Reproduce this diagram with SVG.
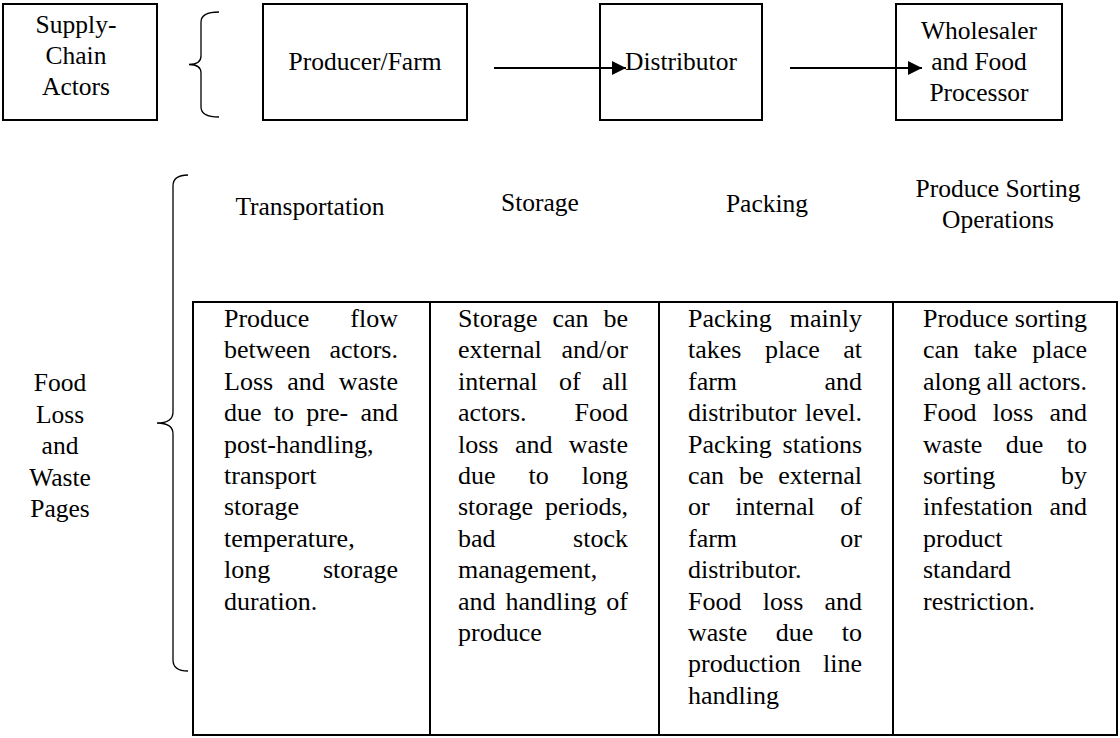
<svg xmlns="http://www.w3.org/2000/svg" width="1120" height="738" viewBox="0 0 1120 738" font-family="'Liberation Serif', 'Times New Roman', Times, serif">
<style>
text{font-family:"Liberation Serif","Times New Roman",Times,serif;fill:#000}
.h{font-size:25.5px;text-anchor:middle}
.t{font-size:26px}
.e{text-anchor:end}
.box{fill:#fff;stroke:#000;stroke-width:2}
.brace{fill:none;stroke:#000;stroke-width:1.3}
.conn{stroke:#000;stroke-width:2;fill:none}
</style>
<defs>
<marker id="arrow" markerUnits="userSpaceOnUse" markerWidth="14" markerHeight="14" refX="14" refY="7" orient="auto">
<path d="M0,0 L14,7 L0,14 z" fill="#000"/>
</marker>
</defs>
<rect width="1120" height="738" fill="#fff"/>

<g id="supply-chain-actors">
<rect class="box" x="3" y="4" width="154" height="116"/>
<text class="h" x="76" y="33">Supply-</text>
<text class="h" x="76" y="64">Chain</text>
<text class="h" x="76" y="95">Actors</text>
</g>

<g id="brace-actors">
<path class="brace" d="M219,12 Q201,12 201,22 L201,56 Q201,64.5 189,64.5 Q201,64.5 201,73 L201,107 Q201,117 219,117"/>
</g>

<g id="producer-farm">
<rect class="box" x="263" y="4" width="204" height="116"/>
<text class="h" x="365" y="70">Producer/Farm</text>
</g>

<g id="distributor">
<rect class="box" x="600" y="4" width="162" height="116"/>
<text class="h" x="681" y="70">Distributor</text>
</g>

<g id="wholesaler">
<rect class="box" x="896" y="4" width="166" height="116"/>
<text class="h" x="979" y="39">Wholesaler</text>
<text class="h" x="979" y="70">and Food</text>
<text class="h" x="979" y="101">Processor</text>
</g>

<g id="connectors">
<line class="conn" x1="494" y1="68" x2="626" y2="68" marker-end="url(#arrow)"/>
<line class="conn" x1="790" y1="68" x2="922" y2="68" marker-end="url(#arrow)"/>
</g>

<g id="headers">
<text class="h" x="310" y="215">Transportation</text>
<text class="h" x="540" y="211">Storage</text>
<text class="h" x="767" y="212">Packing</text>
<text class="h" x="998" y="197">Produce Sorting</text>
<text class="h" x="998" y="228">Operations</text>
</g>

<g id="food-loss-label">
<text class="h" x="60" y="391">Food</text>
<text class="h" x="60" y="422.5">Loss</text>
<text class="h" x="60" y="454">and</text>
<text class="h" x="60" y="485.5">Waste</text>
<text class="h" x="60" y="517">Pages</text>
</g>

<g id="brace-pages">
<path class="brace" d="M188,175 Q173,175 173,186 L173,412 Q173,423 157,423 Q173,423 173,434 L173,660 Q173,671 188,671"/>
</g>

<g id="table-frame">
<rect class="box" x="193" y="302" width="924" height="433" fill="none"/>
<line class="conn" x1="430" y1="302" x2="430" y2="735"/>
<line class="conn" x1="659" y1="302" x2="659" y2="735"/>
<line class="conn" x1="893" y1="302" x2="893" y2="735"/>
</g>

<g id="cell-transportation" class="t">
<text x="224" y="327">Produce</text><text class="e" x="398" y="327">flow</text>
<text x="224" y="358.4">between</text><text class="e" x="398" y="358.4">actors.</text>
<text x="224" y="389.8">Loss</text><text x="287.2" y="389.8">and</text><text class="e" x="398" y="389.8">waste</text>
<text x="224" y="421.2">due</text><text x="273.8" y="421.2">to</text><text x="306.3" y="421.2">pre-</text><text class="e" x="398" y="421.2">and</text>
<text x="224" y="452.6">post-handling,</text>
<text x="224" y="484">transport</text>
<text x="224" y="515.4">storage</text>
<text x="224" y="546.8">temperature,</text>
<text x="224" y="578.2">long</text><text class="e" x="398" y="578.2">storage</text>
<text x="224" y="609.6">duration.</text>
</g>

<g id="cell-storage" class="t">
<text x="458" y="327">Storage</text><text x="552.4" y="327">can</text><text class="e" x="628" y="327">be</text>
<text x="458" y="358.4">external</text><text class="e" x="628" y="358.4">and/or</text>
<text x="458" y="389.8">internal</text><text x="558.9" y="389.8">of</text><text class="e" x="628" y="389.8">all</text>
<text x="458" y="421.2">actors.</text><text class="e" x="628" y="421.2">Food</text>
<text x="458" y="452.6">loss</text><text x="514.9" y="452.6">and</text><text class="e" x="628" y="452.6">waste</text>
<text x="458" y="484">due</text><text x="528.5" y="484">to</text><text class="e" x="628" y="484">long</text>
<text x="458" y="515.4">storage</text><text class="e" x="628" y="515.4">periods,</text>
<text x="458" y="546.8">bad</text><text class="e" x="628" y="546.8">stock</text>
<text x="458" y="578.2">management,</text>
<text x="458" y="609.6">and</text><text x="505.4" y="609.6">handling</text><text class="e" x="628" y="609.6">of</text>
<text x="458" y="641">produce</text>
</g>

<g id="cell-packing" class="t">
<text x="688" y="327">Packing</text><text class="e" x="862" y="327">mainly</text>
<text x="688" y="358.4">takes</text><text x="764.9" y="358.4">place</text><text class="e" x="862" y="358.4">at</text>
<text x="688" y="389.8">farm</text><text class="e" x="862" y="389.8">and</text>
<text x="688" y="421.2">distributor</text><text class="e" x="862" y="421.2">level.</text>
<text x="688" y="452.6">Packing</text><text class="e" x="862" y="452.6">stations</text>
<text x="688" y="484">can</text><text x="739" y="484">be</text><text class="e" x="862" y="484">external</text>
<text x="688" y="515.4">or</text><text x="735.3" y="515.4">internal</text><text class="e" x="862" y="515.4">of</text>
<text x="688" y="546.8">farm</text><text class="e" x="862" y="546.8">or</text>
<text x="688" y="578.2">distributor.</text>
<text x="688" y="609.6">Food</text><text x="762.8" y="609.6">loss</text><text class="e" x="862" y="609.6">and</text>
<text x="688" y="641">waste</text><text x="775.8" y="641">due</text><text class="e" x="862" y="641">to</text>
<text x="688" y="672.4">production</text><text class="e" x="862" y="672.4">line</text>
<text x="688" y="703.8">handling</text>
</g>

<g id="cell-sorting" class="t">
<text x="923" y="327">Produce</text><text class="e" x="1087" y="327">sorting</text>
<text x="923" y="358.4">can</text><text x="974" y="358.4">take</text><text class="e" x="1087" y="358.4">place</text>
<text x="923" y="389.8">along</text><text x="986.6" y="389.8">all</text><text class="e" x="1087" y="389.8">actors.</text>
<text x="923" y="421.2">Food</text><text x="992.8" y="421.2">loss</text><text class="e" x="1087" y="421.2">and</text>
<text x="923" y="452.6">waste</text><text x="1005.8" y="452.6">due</text><text class="e" x="1087" y="452.6">to</text>
<text x="923" y="484">sorting</text><text class="e" x="1087" y="484">by</text>
<text x="923" y="515.4">infestation</text><text class="e" x="1087" y="515.4">and</text>
<text x="923" y="546.8">product</text>
<text x="923" y="578.2">standard</text>
<text x="923" y="609.6">restriction.</text>
</g>
</svg>
